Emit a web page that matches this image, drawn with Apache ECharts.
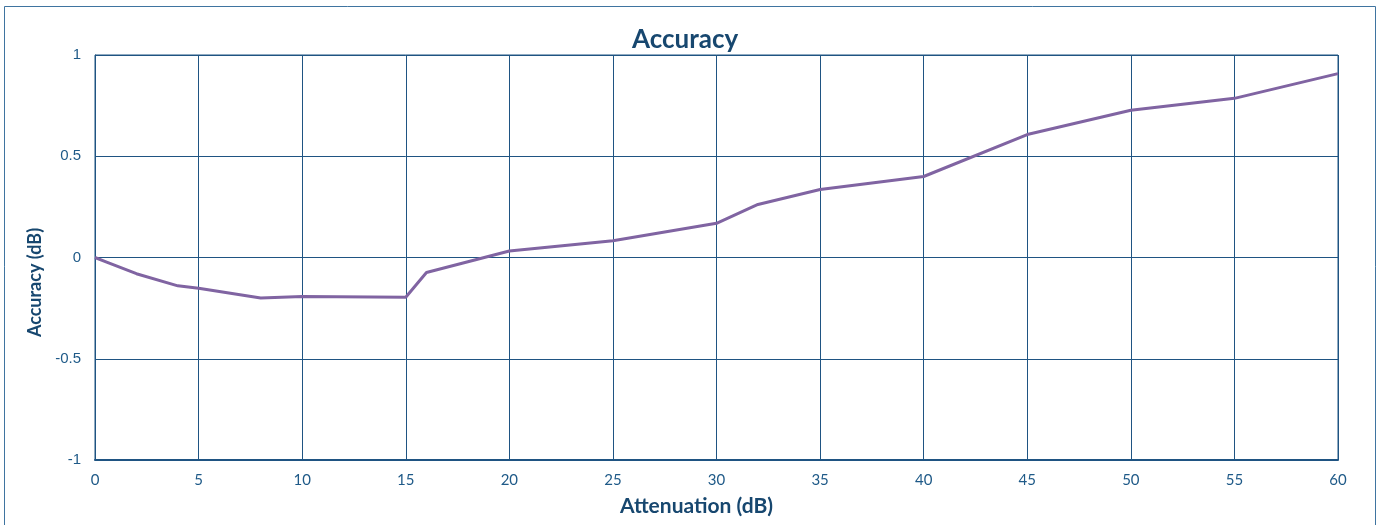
<!DOCTYPE html>
<html>
<head>
<meta charset="utf-8">
<script src="https://cdn.jsdelivr.net/npm/echarts@6/dist/echarts.min.js"></script>
<style>html,body{margin:0;padding:0;background:#fff;}#c{width:1380px;height:525px;}</style>
</head>
<body>
<div id="c"></div>
<script>
const attenuation = [0, 0.5, 2, 4, 5, 8, 10, 15, 16, 20, 25, 30, 32, 35, 40, 45, 50, 55, 60];
const accuracy = [0, -0.02, -0.08, -0.14, -0.152, -0.2, -0.193, -0.196, -0.074, 0.032, 0.083, 0.169, 0.262, 0.336, 0.40, 0.607, 0.727, 0.786, 0.908];
const titleText = 'Accuracy';
const xName = 'Attenuation (dB)';
const yName = 'Accuracy (dB)';

const blue = '#1f5482';
const chart = echarts.init(document.getElementById('c'), null, {renderer: 'canvas'});
chart.setOption({
  animation: false,
  backgroundColor: '#fff',
  title: {
    text: titleText, left: 627, top: 22,
    textStyle: {fontFamily: 'Lato', fontWeight: 'bold', fontSize: 26, color: '#17476f'}
  },
  graphic: [{
    type: 'rect', shape: {x: 4.5, y: 6.5, width: 1371, height: 530},
    style: {fill: 'none', stroke: '#3f74a0', lineWidth: 1}, silent: true
  }],
  grid: {left: 95, right: 42, top: 55, bottom: 65, show: true, borderColor: blue, borderWidth: 1},
  xAxis: {
    type: 'value', min: 0, max: 60, interval: 5,
    name: xName, nameLocation: 'middle', nameGap: 36,
    nameTextStyle: {fontFamily: 'Lato', fontWeight: 'bold', fontSize: 21, color: '#17476f', padding: [0, 40, 0, 0]},
    axisLine: {show: true, onZero: false, lineStyle: {color: blue, width: 2}},
    axisTick: {show: false},
    axisLabel: {color: '#1f5a88', fontFamily: 'Lato', fontSize: 15, margin: 13},
    splitLine: {show: true, lineStyle: {color: blue, width: 1}}
  },
  yAxis: {
    type: 'value', min: -1, max: 1, interval: 0.5,
    name: yName, nameLocation: 'middle', nameGap: 47, nameRotate: 90,
    nameTextStyle: {fontFamily: 'Lato', fontWeight: 'bold', fontSize: 18, color: '#17476f', padding: [0, 50, 0, 0]},
    axisLine: {show: true, lineStyle: {color: blue, width: 1}},
    axisTick: {show: false},
    axisLabel: {color: '#1f5a88', fontFamily: 'Liberation Sans', fontSize: 15, margin: 14},
    splitLine: {show: true, lineStyle: {color: blue, width: 1}}
  },
  series: [{
    type: 'line',
    data: attenuation.map((x, i) => [x, accuracy[i]]),
    showSymbol: false,
    lineStyle: {color: '#8064a2', width: 3},
    itemStyle: {color: '#8064a2'}
  }]
});
</script>
</body>
</html>
